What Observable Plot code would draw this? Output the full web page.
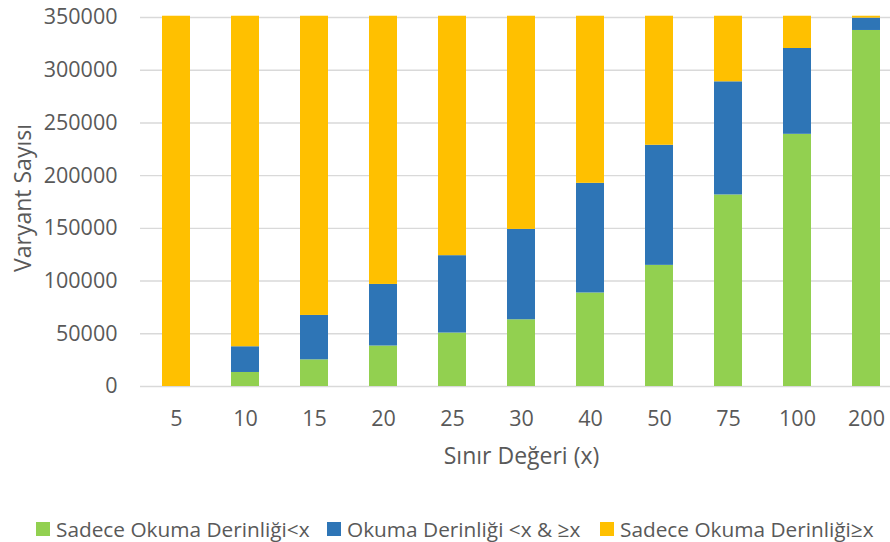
<!DOCTYPE html>
<html><head><meta charset="utf-8">
<script src="https://cdn.jsdelivr.net/npm/d3@7"></script>
<script src="https://cdn.jsdelivr.net/npm/@observablehq/plot@0.6"></script>
<style>
html,body{margin:0;padding:0;overflow:hidden;background:#fff;width:890px;height:542px}
#chart{position:relative;width:890px;height:542px;overflow:hidden}
#chart svg{position:absolute;left:0;top:0;max-width:none !important}
.item{position:absolute;top:515px;display:flex;align-items:center;font-family:"Open Sans";font-size:20.8px;color:#595959;white-space:nowrap}
.sw{width:14px;height:14px;margin-right:6px}
</style></head><body><div id="chart"></div>
<script>
const categories = ["5","10","15","20","25","30","40","50","75","100","200"];
const seriesNames = ["Sadece Okuma Derinliği<x","Okuma Derinliği <x & ≥x","Sadece Okuma Derinliği≥x"];
const colors = ["#92D050","#2E75B6","#FFC000"];
const onlyBelow = [0, 13300, 25300, 38400, 50700, 63300, 88700, 114900, 181700, 239200, 337700];
const both      = [0, 24400, 42100, 58400, 73400, 85700, 104000, 113900, 107300, 81400, 11700];
const onlyAbove = [351200, 313500, 283800, 254400, 227100, 202200, 158500, 122400, 62200, 30600, 1800];
const yTicks = [0, 50000, 100000, 150000, 200000, 250000, 300000, 350000];
const xTitle = "Sınır Değeri (x)";
const yTitle = "Varyant Sayısı";

const seriesValues = [onlyBelow, both, onlyAbove];
const rows = categories.flatMap((c, i) => seriesNames.map((s, k) => ({cat: c, series: s, value: seriesValues[k][i]})));

const plot = Plot.plot({
  width: 902, height: 480,
  marginLeft: 140, marginRight: 0, marginTop: 17, marginBottom: 94,
  style: {fontFamily: "Open Sans", fontSize: "21.5px", color: "#595959", background: "transparent"},
  x: {domain: categories, paddingInner: 0.6, paddingOuter: 0.3, label: null},
  y: {domain: [0, 350000], label: null},
  color: {domain: seriesNames, range: colors},
  marks: [
    Plot.ruleY(yTicks, {stroke: "#D9D9D9", strokeWidth: 1.4}),
    Plot.barY(rows, {x: "cat", y: "value", fill: "series", order: seriesNames}),
    Plot.axisY({ticks: yTicks, tickSize: 0, tickPadding: 23, tickFormat: d => String(d), label: null}),
    Plot.axisX({tickSize: 0, tickPadding: 24, label: null}),
    Plot.text([xTitle], {frameAnchor: "bottom", dy: 77, fill: "#595959", fontSize: 23}),
    Plot.text([yTitle], {frameAnchor: "left", textAnchor: "middle", dx: -117, dy: -4, rotate: -90, fill: "#595959", fontSize: 23})
  ]
});
plot.style.maxWidth = "none";
const chart = document.getElementById("chart");
chart.appendChild(plot);

const legendX = [36, 327, 600];
seriesNames.forEach((s, k) => {
  const it = document.createElement("div");
  it.className = "item";
  it.style.left = legendX[k] + "px";
  const sw = document.createElement("span");
  sw.className = "sw";
  sw.style.background = colors[k];
  const t = document.createElement("span");
  t.textContent = s;
  it.appendChild(sw); it.appendChild(t);
  chart.appendChild(it);
});
</script>
</body></html>
